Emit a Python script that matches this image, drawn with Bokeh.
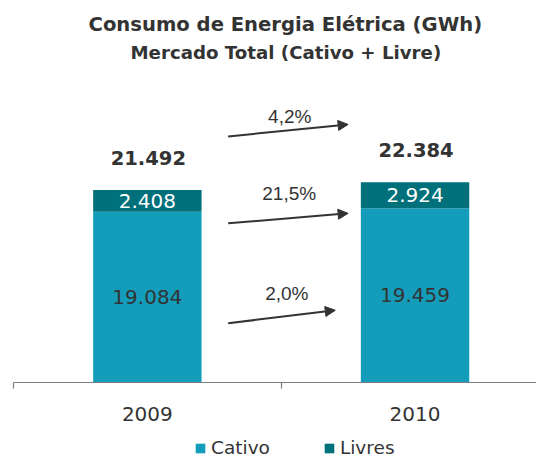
from bokeh.plotting import figure
from bokeh.layouts import column
from bokeh.models import (ColumnDataSource, Range1d, FixedTicker, Title, Legend,
                          LegendItem, Arrow, NormalHead, LinearAxis)
from bokeh.core.properties import value
from bokeh.embed import file_html
from bokeh.resources import INLINE

# ---- data ----
years = ["2009", "2010"]
cativo = [19084, 19459]
livres = [2408, 2924]
totals = [21492, 22384]
cativo_labels = ["19.084", "19.459"]
livres_labels = ["2.408", "2.924"]
total_labels = ["21.492", "22.384"]
growth_labels = ["4,2%", "21,5%", "2,0%"]
series_names = ["Cativo", "Livres"]

# ---- annotation layout (data units) ----
arrow_x0 = [0.802, 0.802, 0.802]
arrow_x1 = [1.250, 1.250, 1.202]
arrow_y0 = [27490, 17780, 6620]
arrow_y1 = [28830, 18895, 8070]
glabel_x = [1.032, 1.030, 1.021]
glabel_y = [29720, 21070, 9930]

C_CATIVO = "#139DBA"
C_LIVRES = "#00707A"
TXT = "#333333"

xpos = [0.5, 1.5]
p = figure(width=536, height=430, output_backend="svg", toolbar_location=None,
           x_range=Range1d(0, 523 / 267.7), y_range=Range1d(0, 34855),
           min_border_left=13, min_border_right=0, min_border_top=70,
           min_border_bottom=48, x_axis_type=None, y_axis_type=None)
p.outline_line_color = None
p.xgrid.visible = False
p.ygrid.visible = False

src = ColumnDataSource(dict(x=xpos, cativo=cativo, livres=livres, total=totals,
                            clab=cativo_labels, llab=livres_labels, tlab=total_labels,
                            cmid=[c / 2 for c in cativo],
                            lmid=[c + l / 2 for c, l in zip(cativo, livres)]))

rs = p.vbar_stack(["cativo", "livres"], x="x", width=0.405, source=src,
                  color=[C_CATIVO, C_LIVRES], line_color=None)

p.text(x="x", y="cmid", text="clab", source=src, text_align="center",
       text_baseline="middle", text_font=value("DejaVu Sans"),
       text_font_size="20px", text_color=TXT)
p.text(x="x", y="lmid", text="llab", source=src, text_align="center",
       text_baseline="middle", text_font=value("DejaVu Sans"),
       text_font_size="20px", text_color="white")
p.text(x="x", y="total", text="tlab", source=src, text_align="center",
       text_baseline="middle", y_offset=-32, x_offset=1, text_font=value("DejaVu Sans"),
       text_font_style="bold", text_font_size="19.5px", text_color=TXT)

gsrc = ColumnDataSource(dict(x0=arrow_x0, x1=arrow_x1, y0=arrow_y0, y1=arrow_y1,
                             gx=glabel_x, gy=glabel_y, g=growth_labels))
p.add_layout(Arrow(x_start="x0", y_start="y0", x_end="x1", y_end="y1", source=gsrc,
                   line_color=TXT, line_width=2,
                   end=NormalHead(size=10, fill_color=TXT, line_color=TXT)))
p.text(x="gx", y="gy", text="g", source=gsrc, text_align="center",
       text_baseline="middle", text_font=value("Liberation Sans"),
       text_font_size="19px", text_color=TXT)

xaxis = LinearAxis(ticker=FixedTicker(ticks=xpos, minor_ticks=[0, 1]),
                   major_label_overrides={xpos[0]: years[0], xpos[1]: years[1]},
                   axis_line_color="#7F7F7F", axis_line_width=1.2,
                   major_tick_in=0, major_tick_out=0,
                   minor_tick_in=0, minor_tick_out=6,
                   minor_tick_line_color="#7F7F7F", minor_tick_line_width=1.2,
                   major_label_standoff=18,
                   major_label_text_font="DejaVu Sans",
                   major_label_text_font_size="20px",
                   major_label_text_color=TXT)
p.add_layout(xaxis, "below")

p.add_layout(Title(text="Mercado Total (Cativo + Livre)", align="left", offset=117,
                   text_font="DejaVu Sans", text_font_style="bold",
                   text_font_size="18.2px", text_color=TXT, standoff=16), "above")
p.add_layout(Title(text="Consumo de Energia Elétrica (GWh)", align="left", offset=75,
                   text_font="DejaVu Sans", text_font_style="bold",
                   text_font_size="19.6px", text_color=TXT, standoff=-9), "above")

# legend strip below the chart
p2 = figure(width=536, height=28, output_backend="svg", toolbar_location=None,
            x_range=Range1d(0, 1), y_range=Range1d(-2, -1), min_border=0,
            x_axis_type=None, y_axis_type=None)
p2.outline_line_color = None
p2.xgrid.visible = False
p2.ygrid.visible = False
lr = p2.vbar_stack(["cativo", "livres"], x="x", width=0.4, source=src,
                   color=[C_CATIVO, C_LIVRES], line_color=None, visible=False)
legend = Legend(items=[LegendItem(label=series_names[0], renderers=[lr[0]]),
                       LegendItem(label=series_names[1], renderers=[lr[1]])],
                orientation="horizontal", location=(181, 0),
                glyph_width=12, glyph_height=12, label_standoff=5, spacing=53,
                padding=0, margin=0, border_line_color=None,
                background_fill_alpha=0, inactive_fill_alpha=0,
                label_text_font="DejaVu Sans", label_text_font_size="18.5px",
                label_text_color=TXT, label_height=14)
p2.add_layout(legend, "center")

open("out.html", "w").write(file_html(column(p, p2, spacing=0), INLINE))
